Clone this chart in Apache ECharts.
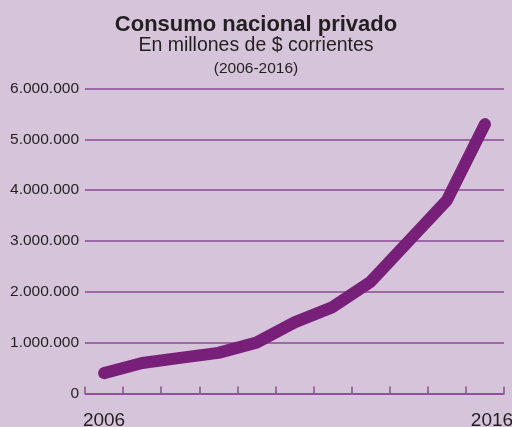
<!DOCTYPE html>
<html><head><meta charset="utf-8">
<script src="https://cdn.jsdelivr.net/npm/echarts@6/dist/echarts.min.js"></script>
<style>html,body{margin:0;padding:0;background:#d5c4da;}#c{width:512px;height:427px;}</style>
</head><body><div id="c"></div>
<script>
const years = ['2006','2007','2008','2009','2010','2011','2012','2013','2014','2015','2016'];
const consumo = [400000, 600000, 700000, 800000, 1000000, 1400000, 1700000, 2200000, 3000000, 3800000, 5300000];
const shownYears = ['2006','2016'];

const chart = echarts.init(document.getElementById('c'));
const fmt = v => String(v).replace(/\B(?=(\d{3})+(?!\d))/g, '.');
chart.setOption({
  backgroundColor: '#d5c4da',
  animation: false,
  title: [
    {text: 'Consumo nacional privado', left: 'center', top: 9,
     textStyle: {fontFamily: 'Liberation Sans', fontSize: 22, fontWeight: 'bold', color: '#231f20'}},
    {text: 'En millones de $ corrientes', left: 'center', top: 31,
     textStyle: {fontFamily: 'Liberation Sans', fontSize: 19.5, fontWeight: 'normal', color: '#231f20'}},
    {text: '(2006-2016)', left: 'center', top: 56,
     textStyle: {fontFamily: 'Liberation Sans', fontSize: 15.5, fontWeight: 'normal', color: '#231f20'}}
  ],
  grid: {left: 85, right: 8, top: 88.5, bottom: 33.5, containLabel: false, outerBoundsMode: 'none'},
  xAxis: {
    type: 'category', data: years, boundaryGap: true,
    axisLine: {lineStyle: {color: '#8b4a94', width: 1.5}},
    axisTick: {show: true, inside: true, length: 7, interval: 0, lineStyle: {color: '#8b4a94', width: 1.5}},
    axisLabel: {
      interval: 0,
      formatter: v => v === shownYears[0] ? '{a|' + v + '}' : (v === shownYears[1] ? '{b|' + v + '}' : ''),
      rich: {
        a: {fontFamily: 'Liberation Sans', fontSize: 19, color: '#231f20'},
        b: {fontFamily: 'Liberation Sans', fontSize: 19, color: '#231f20', padding: [0, 0, 0, 14]}
      },
      fontFamily: 'Liberation Sans', fontSize: 19, color: '#231f20', margin: 18
    }
  },
  yAxis: {
    type: 'value', min: 0, max: 6000000, interval: 1000000,
    axisLine: {show: false}, axisTick: {show: false},
    axisLabel: {formatter: fmt, fontFamily: 'Liberation Sans', fontSize: 15.5, color: '#231f20', margin: 6},
    splitLine: {lineStyle: {color: '#8b4a94', width: 1.5}}
  },
  series: [{
    type: 'line', data: consumo, symbol: 'none', smooth: false,
    lineStyle: {color: '#781f7a', width: 12, cap: 'round', join: 'round'}
  }]
});
</script></body></html>
